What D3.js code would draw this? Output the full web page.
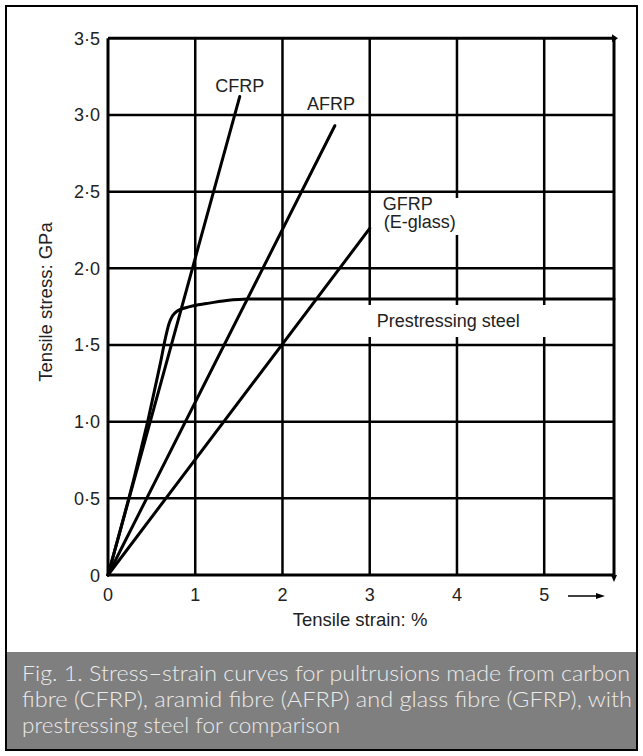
<!DOCTYPE html>
<html><head><meta charset="utf-8">
<script src="https://cdn.jsdelivr.net/npm/d3@7"></script>
<style>html,body{margin:0;padding:0;background:#fff;}</style>
</head><body>
<script>
// ---- data ----
const xTicks = [0, 1, 2, 3, 4, 5];
const xTickLabels = ["0", "1", "2", "3", "4", "5"];
const yTicks = [0, 0.5, 1.0, 1.5, 2.0, 2.5, 3.0, 3.5];
const yTickLabels = ["0", "0·5", "1·0", "1·5", "2·0", "2·5", "3·0", "3·5"];
const cfrp = [[0, 0], [1.51, 3.12]];
const afrp = [[0, 0], [2.6, 2.93]];
const gfrp = [[0, 0], [3.0, 2.26]];
const steel = [[0, 0], [0.60, 1.38], [0.66, 1.55], [0.70, 1.64], [0.74, 1.69], [0.79, 1.72], [0.94, 1.75], [1.13, 1.77], [1.36, 1.79], [1.6, 1.80], [5.8, 1.80]];
const seriesLabels = [
  {text: "CFRP", x: 1.23, y: 3.15},
  {text: "AFRP", x: 2.28, y: 3.03},
  {text: "GFRP", x: 3.15, y: 2.38},
  {text: "(E-glass)", x: 3.16, y: 2.26},
  {text: "Prestressing steel", x: 3.08, y: 1.617}
];
const xTitle = "Tensile strain: %";
const yTitle = "Tensile stress: GPa";
const captionLines = [
  "Fig. 1. Stress–strain curves for pultrusions made from carbon",
  "fibre (CFRP), aramid fibre (AFRP) and glass fibre (GFRP), with",
  "prestressing steel for comparison"
];

const W = 643, H = 756;
const svg = d3.select("body").append("svg").attr("width", W).attr("height", H);
const font = "'Liberation Sans', Arial, Helvetica, sans-serif";

const x = d3.scaleLinear().domain([0, 5.8]).range([108, 614]);
const y = d3.scaleLinear().domain([0, 3.5]).range([575, 38.3]);

// outer frame
svg.append("rect").attr("x", 6).attr("y", 6).attr("width", 631).attr("height", 744)
  .attr("fill", "#fff").attr("stroke", "#000").attr("stroke-width", 2);
// caption band
svg.append("rect").attr("x", 7).attr("y", 652).attr("width", 629).attr("height", 97)
  .attr("fill", "#7f7f7f");
const capW = [608, 610, 318];
captionLines.forEach((t, i) => {
  svg.append("text").attr("x", 22).attr("y", 681 + i * 26)
    .attr("font-family", "Lato, 'Open Sans', sans-serif").attr("font-weight", 300)
    .attr("font-size", 21).attr("fill", "#ebebeb")
    .attr("textLength", capW[i]).attr("lengthAdjust", "spacingAndGlyphs")
    .text(t);
});

// grid
const g = svg.append("g");
const vx = [0, 1, 2, 3, 4, 5, 5.8];
g.selectAll("line.v").data(vx).join("line")
  .attr("x1", d => x(d)).attr("x2", d => x(d)).attr("y1", y(3.5)).attr("y2", y(0))
  .attr("stroke", "#000").attr("stroke-width", d => (d === 0 || d === 5.8) ? 3 : 2.5);
g.selectAll("line.h").data(yTicks).join("line")
  .attr("x1", x(0)).attr("x2", x(5.8)).attr("y1", d => y(d)).attr("y2", d => y(d))
  .attr("stroke", "#000").attr("stroke-width", d => (d === 0 || d === 3.5) ? 3 : 2.5);

// small arrowheads at ends of frame
svg.append("path").attr("d", `M${x(5.8)-2},${y(3.5)-4} L${x(5.8)+4},${y(3.5)} L${x(5.8)-2},${y(3.5)+4}Z`).attr("fill", "#000");
svg.append("path").attr("d", `M${x(5.8)-3},${y(0)} L${x(5.8)},${y(0)+7} L${x(5.8)+3},${y(0)}Z`).attr("fill", "#000");

// label white boxes (mask grid)
svg.append("rect").attr("x", 378).attr("y", 198).attr("width", 84).attr("height", 37).attr("fill", "#fff");
svg.append("rect").attr("x", 364).attr("y", 305).attr("width", 236).attr("height", 32).attr("fill", "#fff");

// curves
const line = d3.line().x(d => x(d[0])).y(d => y(d[1]));
const lineCurve = d3.line().x(d => x(d[0])).y(d => y(d[1])).curve(d3.curveMonotoneX);
[cfrp, afrp, gfrp].forEach(s => {
  svg.append("path").attr("d", line(s)).attr("fill", "none").attr("stroke", "#000")
    .attr("stroke-width", 3).attr("stroke-linecap", "round");
});
svg.append("path").attr("d", lineCurve(steel)).attr("fill", "none").attr("stroke", "#000")
  .attr("stroke-width", 3).attr("stroke-linecap", "round");

// series labels
seriesLabels.forEach(l => {
  svg.append("text").attr("x", x(l.x)).attr("y", y(l.y))
    .attr("font-family", font).attr("font-size", 18).attr("fill", "#222").text(l.text);
});

// tick labels
svg.selectAll("text.xt").data(xTicks).join("text")
  .attr("x", d => x(d)).attr("y", 601).attr("text-anchor", "middle")
  .attr("font-family", font).attr("font-size", 18).attr("fill", "#222")
  .text((d, i) => xTickLabels[i]);
svg.selectAll("text.yt").data(yTicks).join("text")
  .attr("x", 100).attr("y", d => y(d) + 6.5).attr("text-anchor", "end")
  .attr("font-family", font).attr("font-size", 18).attr("fill", "#222")
  .text((d, i) => yTickLabels[i]);

// x arrow
svg.append("line").attr("x1", 568).attr("x2", 598).attr("y1", 596).attr("y2", 596)
  .attr("stroke", "#000").attr("stroke-width", 1.5);
svg.append("path").attr("d", "M596,593 L605,596 L596,599Z").attr("fill", "#000");

// axis titles
svg.append("text").attr("x", 360).attr("y", 626).attr("text-anchor", "middle")
  .attr("font-family", font).attr("font-size", 18.5).attr("fill", "#222").text(xTitle);
svg.append("text").attr("transform", "translate(52,302) rotate(-90)").attr("text-anchor", "middle")
  .attr("font-family", font).attr("font-size", 18.5).attr("fill", "#222").text(yTitle);
</script>
</body></html>
